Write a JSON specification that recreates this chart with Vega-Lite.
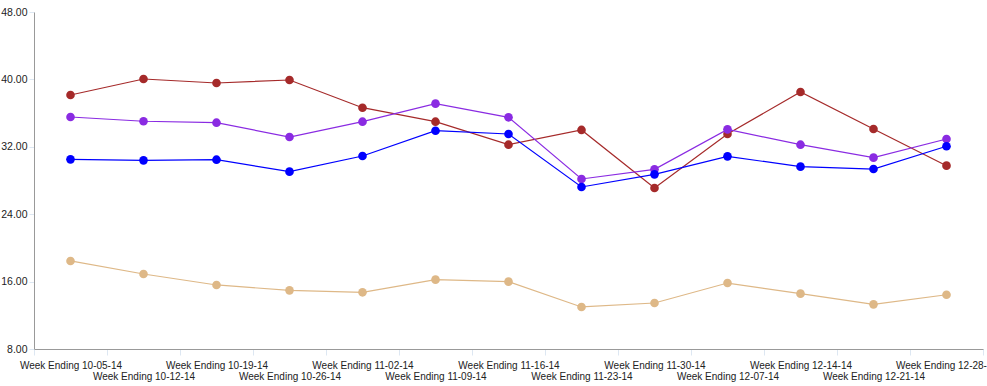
{
  "$schema": "https://vega.github.io/schema/vega-lite/v6.json",
  "width": 949,
  "height": 337,
  "autosize": {"type": "none"},
  "padding": {"left": 34, "top": 12, "right": 4, "bottom": 37},
  "background": "white",
  "config": {"view": {"stroke": null}, "font": "Liberation Sans"},
  "data": {
    "values": [
      {"week": "Week Ending 10-05-14", "series": "Red", "value": 38.15},
      {"week": "Week Ending 10-12-14", "series": "Red", "value": 40.05},
      {"week": "Week Ending 10-19-14", "series": "Red", "value": 39.57},
      {"week": "Week Ending 10-26-14", "series": "Red", "value": 39.93},
      {"week": "Week Ending 11-02-14", "series": "Red", "value": 36.64},
      {"week": "Week Ending 11-09-14", "series": "Red", "value": 34.98},
      {"week": "Week Ending 11-16-14", "series": "Red", "value": 32.25},
      {"week": "Week Ending 11-23-14", "series": "Red", "value": 34.0},
      {"week": "Week Ending 11-30-14", "series": "Red", "value": 27.11},
      {"week": "Week Ending 12-07-14", "series": "Red", "value": 33.52},
      {"week": "Week Ending 12-14-14", "series": "Red", "value": 38.5},
      {"week": "Week Ending 12-21-14", "series": "Red", "value": 34.11},
      {"week": "Week Ending 12-28-14", "series": "Red", "value": 29.76},
      {"week": "Week Ending 10-05-14", "series": "Purple", "value": 35.54},
      {"week": "Week Ending 10-12-14", "series": "Purple", "value": 35.03},
      {"week": "Week Ending 10-19-14", "series": "Purple", "value": 34.86},
      {"week": "Week Ending 10-26-14", "series": "Purple", "value": 33.16},
      {"week": "Week Ending 11-02-14", "series": "Purple", "value": 34.98},
      {"week": "Week Ending 11-09-14", "series": "Purple", "value": 37.12},
      {"week": "Week Ending 11-16-14", "series": "Purple", "value": 35.5},
      {"week": "Week Ending 11-23-14", "series": "Purple", "value": 28.18},
      {"week": "Week Ending 11-30-14", "series": "Purple", "value": 29.33},
      {"week": "Week Ending 12-07-14", "series": "Purple", "value": 34.07},
      {"week": "Week Ending 12-14-14", "series": "Purple", "value": 32.25},
      {"week": "Week Ending 12-21-14", "series": "Purple", "value": 30.71},
      {"week": "Week Ending 12-28-14", "series": "Purple", "value": 32.93},
      {"week": "Week Ending 10-05-14", "series": "Blue", "value": 30.51},
      {"week": "Week Ending 10-12-14", "series": "Blue", "value": 30.39},
      {"week": "Week Ending 10-19-14", "series": "Blue", "value": 30.47},
      {"week": "Week Ending 10-26-14", "series": "Blue", "value": 29.05},
      {"week": "Week Ending 11-02-14", "series": "Blue", "value": 30.91},
      {"week": "Week Ending 11-09-14", "series": "Blue", "value": 33.91},
      {"week": "Week Ending 11-16-14", "series": "Blue", "value": 33.52},
      {"week": "Week Ending 11-23-14", "series": "Blue", "value": 27.23},
      {"week": "Week Ending 11-30-14", "series": "Blue", "value": 28.73},
      {"week": "Week Ending 12-07-14", "series": "Blue", "value": 30.87},
      {"week": "Week Ending 12-14-14", "series": "Blue", "value": 29.64},
      {"week": "Week Ending 12-21-14", "series": "Blue", "value": 29.36},
      {"week": "Week Ending 12-28-14", "series": "Blue", "value": 32.06},
      {"week": "Week Ending 10-05-14", "series": "Tan", "value": 18.45},
      {"week": "Week Ending 10-12-14", "series": "Tan", "value": 16.9},
      {"week": "Week Ending 10-19-14", "series": "Tan", "value": 15.6},
      {"week": "Week Ending 10-26-14", "series": "Tan", "value": 14.96},
      {"week": "Week Ending 11-02-14", "series": "Tan", "value": 14.73},
      {"week": "Week Ending 11-09-14", "series": "Tan", "value": 16.23},
      {"week": "Week Ending 11-16-14", "series": "Tan", "value": 15.99},
      {"week": "Week Ending 11-23-14", "series": "Tan", "value": 12.99},
      {"week": "Week Ending 11-30-14", "series": "Tan", "value": 13.46},
      {"week": "Week Ending 12-07-14", "series": "Tan", "value": 15.83},
      {"week": "Week Ending 12-14-14", "series": "Tan", "value": 14.57},
      {"week": "Week Ending 12-21-14", "series": "Tan", "value": 13.3},
      {"week": "Week Ending 12-28-14", "series": "Tan", "value": 14.44}
    ]
  },
  "encoding": {
    "x": {
      "field": "week",
      "type": "nominal",
      "sort": null,
      "scale": {"type": "band", "paddingInner": 0, "paddingOuter": 0},
      "axis": {
        "title": null,
        "labelAngle": 0,
        "labelFont": "Liberation Sans",
        "labelFontSize": 10,
        "labelColor": "#222222",
        "labelOverlap": false,
        "labelBound": false,
        "labelFlush": false,
        "tickBand": "extent",
        "tickColor": "#dde7f2",
        "tickSize": 6,
        "tickWidth": 1,
        "domainColor": "#999999",
        "domainWidth": 1,
        "labelBaseline": "top",
        "labelPadding": {"condition": {"test": "indexof(domain('x'), datum.value) % 2 == 1", "value": 16}, "value": 5},
        "grid": false
      }
    },
    "y": {
      "field": "value",
      "type": "quantitative",
      "scale": {"domain": [8, 48], "nice": false, "zero": false},
      "axis": {
        "title": null,
        "values": [8, 16, 24, 32, 40, 48],
        "format": ".2f",
        "labelFont": "Liberation Sans",
        "labelFontSize": 10.5,
        "labelColor": "#222222",
        "tickColor": "#dde7f2",
        "tickSize": 5,
        "labelPadding": 2,
        "domainColor": "#999999",
        "grid": false
      }
    },
    "color": {
      "field": "series",
      "type": "nominal",
      "scale": {"domain": ["Red", "Purple", "Blue", "Tan"], "range": ["#a52a2a", "#8a2be2", "#0000ff", "#deb887"]},
      "legend": null
    }
  },
  "layer": [
    {"mark": {"type": "line", "strokeWidth": 1.2}},
    {"mark": {"type": "point", "filled": true, "opacity": 1, "size": 75}}
  ]
}
